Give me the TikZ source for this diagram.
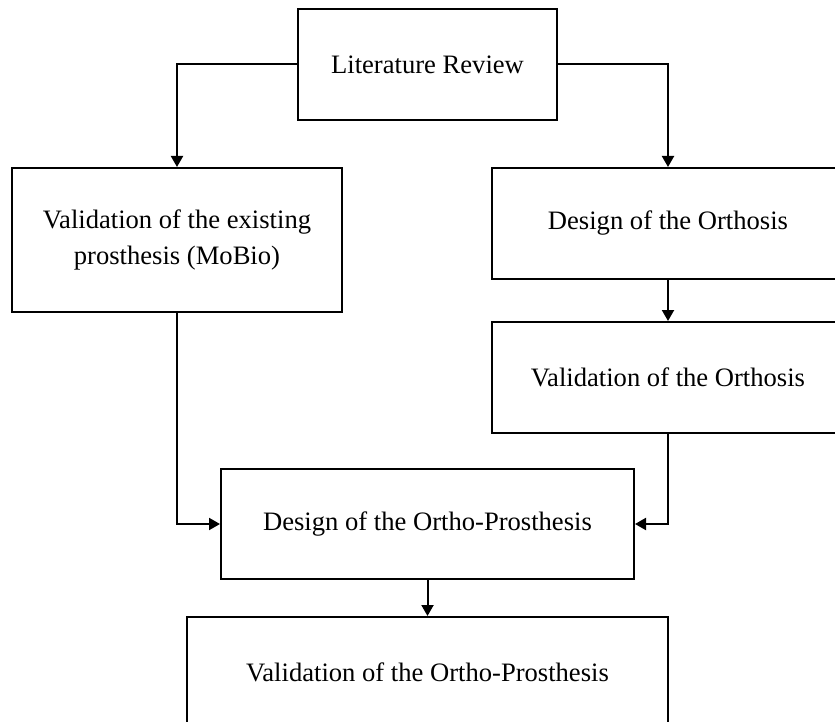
\documentclass[tikz,border=0pt]{standalone}
\usepackage{fontspec}
\setmainfont{Liberation Serif}
\usetikzlibrary{arrows.meta}
\begin{document}
\begin{tikzpicture}[x=1pt, y=-1pt,
  box/.style={draw, line width=2pt, inner sep=0pt, align=center,
    font=\fontsize{26.6}{36.5}\selectfont},
  flow/.style={line width=2pt, -{Triangle[length=11pt, width=12pt]}}]
  \useasboundingbox (0,0) rectangle (835,722);
  \clip (0,0) rectangle (835,722);
  \fill[white] (0,0) rectangle (835,722);

  % process steps
  \node[box, minimum width=259pt, minimum height=111pt] (lit) at (427.5,64.5) {Literature Review};
  \node[box, minimum width=330pt, minimum height=144pt] (valex) at (177,240) {Validation of the existing\\prosthesis (MoBio)};
  \node[box, minimum width=352pt, minimum height=111pt] (desor) at (668,223.5) {Design of the Orthosis};
  \node[box, minimum width=352pt, minimum height=111pt] (valor) at (668,377.5) {Validation of the Orthosis};
  \node[box, minimum width=413pt, minimum height=110pt] (dop) at (427.5,524) {Design of the Ortho-Prosthesis};
  \node[box, minimum width=481pt, minimum height=110pt] (vop) at (427.5,672) {Validation of the Ortho-Prosthesis};

  % connectors
  \draw[flow] (lit.west) -| (valex.north);
  \draw[flow] (lit.east) -| (desor.north);
  \draw[flow] (desor.south) -- (valor.north);
  \draw[flow] (valex.south) |- (dop.west);
  \draw[flow] (valor.south) |- (dop.east);
  \draw[flow] (dop.south) -- (vop.north);
\end{tikzpicture}
\end{document}
